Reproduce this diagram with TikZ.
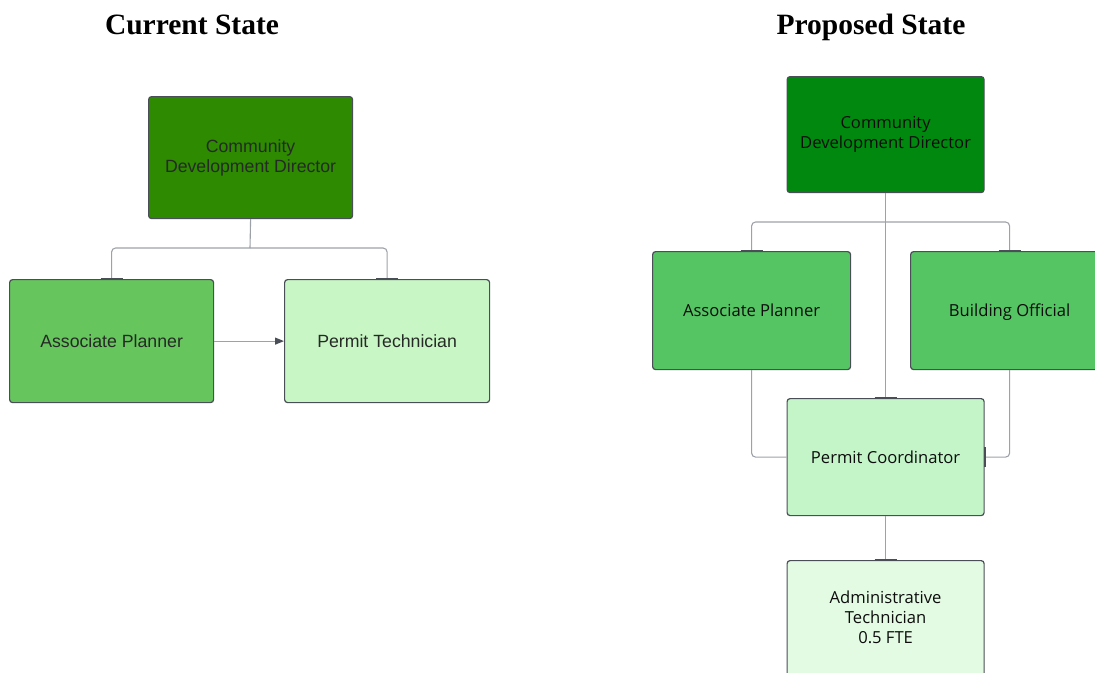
\documentclass[tikz,border=0pt]{standalone}
\usepackage{fontspec}
\setmainfont{Liberation Serif}
\newfontfamily\oldsans{Liberation Sans}
\newfontfamily\newsans{Open Sans}
\usetikzlibrary{arrows.meta}

% invisible rule that centres capital letters on the box centre
\newcommand{\capstrut}{\rule[-3.7pt]{0pt}{20pt}}

\definecolor{edgegray}{HTML}{4A4F57}
\definecolor{linkgray}{HTML}{9DA1A8}
\definecolor{oldtext}{HTML}{262A26}
\definecolor{newtext}{HTML}{0D0D0D}
\definecolor{dirold}{HTML}{2E8A00}
\definecolor{midold}{HTML}{66C55C}
\definecolor{lightold}{HTML}{C8F7C5}
\definecolor{dirnew}{HTML}{00880F}
\definecolor{midnew}{HTML}{55C463}
\definecolor{lightnew}{HTML}{C3F5C8}
\definecolor{palenew}{HTML}{E3FAE3}

\tikzset{
  orgbox/.style={draw=edgegray, line width=1.2pt, rounded corners=3pt,
    inner sep=0pt, align=center, anchor=north west,
    execute at begin node=\capstrut, execute at end node=\capstrut},
  oldbox/.style={orgbox, text=oldtext, font=\oldsans\fontsize{17.7}{20}\selectfont},
  newbox/.style={orgbox, text=newtext, font=\newsans\fontsize{16.6}{20}\selectfont},
  link/.style={draw=linkgray, line width=1.1pt, rounded corners=4pt},
  endbar/.style={draw=edgegray, line width=2pt},
  heading/.style={font=\bfseries\fontsize{29.5}{32}\selectfont, text=black, anchor=base}
}

\begin{document}
\begin{tikzpicture}[x=1pt,y=-1pt]
\useasboundingbox (0,0) rectangle (1095,672);

% headings
\node[heading] (hcur) at (192,34) {Current State};
\node[heading] (hnew) at (871,34) {Proposed State};

% current organisation
\node[oldbox, fill=dirold, minimum width=204pt, minimum height=122pt] (dirL) at (148,96) {Community\\Development Director};
\node[oldbox, fill=midold, minimum width=204pt, minimum height=123pt] (apL) at (9,279) {Associate Planner};
\node[oldbox, fill=lightold, minimum width=205pt, minimum height=123pt] (ptL) at (284,279) {Permit Technician};

\coordinate (jL) at (250,248);
\draw[link] (dirL.south) -- (jL);
\draw[link] (jL) -| (apL.north);
\draw[link] (jL) -| (ptL.north);
\draw[endbar] ([xshift=-11pt]apL.north) -- ([xshift=11pt]apL.north);
\draw[endbar] ([xshift=-11pt]ptL.north) -- ([xshift=11pt]ptL.north);
\draw[draw=linkgray, line width=1.1pt, -{Triangle[length=9pt,width=7pt,color=edgegray]}] (apL.east) -- (ptL.west);

% proposed organisation
\node[newbox, fill=dirnew, minimum width=197pt, minimum height=116pt] (dirR) at (786.5,76) {Community\\Development Director};
\node[newbox, fill=midnew, minimum width=198pt, minimum height=118pt] (apR) at (652,251) {Associate Planner};
\node[newbox, fill=midnew, minimum width=198pt, minimum height=118pt] (bo) at (910,251) {Building Official};
\node[newbox, fill=lightnew, minimum width=197pt, minimum height=117pt] (pc) at (786.5,398) {Permit Coordinator};
\node[newbox, fill=palenew, minimum width=197pt, minimum height=116pt] (at) at (786.5,560) {Administrative\\Technician\\0.5 FTE};

\coordinate (jR) at (885,222);
\draw[link] (dirR.south) -- (pc.north);
\draw[link] (jR) -| (apR.north);
\draw[link] (jR) -| (bo.north);
\draw[link] (apR.south) |- (pc.west);
\draw[link] (bo.south) |- (pc.east);
\draw[link] (pc.south) -- (at.north);
\draw[endbar] ([xshift=-11pt]apR.north) -- ([xshift=11pt]apR.north);
\draw[endbar] ([xshift=-11pt]bo.north) -- ([xshift=11pt]bo.north);
\draw[endbar] ([xshift=-11pt]pc.north) -- ([xshift=11pt]pc.north);
\draw[endbar] ([yshift=-10pt]pc.east) -- ([yshift=10pt]pc.east);
\draw[endbar] ([xshift=-11pt]at.north) -- ([xshift=11pt]at.north);
\end{tikzpicture}
\end{document}
